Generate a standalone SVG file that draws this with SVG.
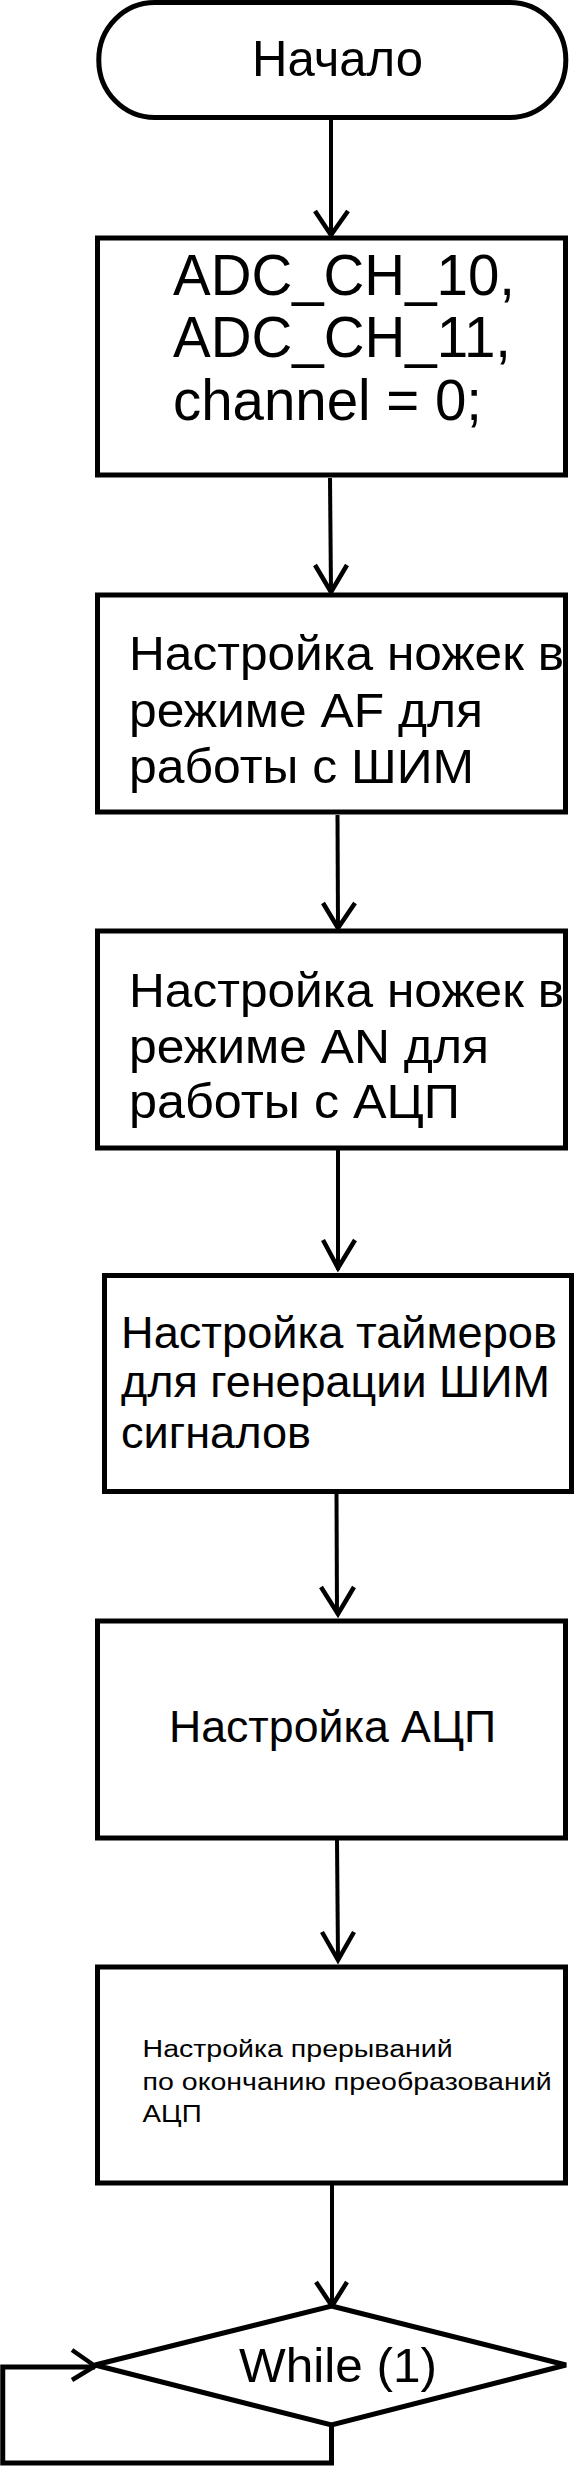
<svg xmlns="http://www.w3.org/2000/svg" width="576" height="2467" viewBox="0 0 576 2467">
<style>
.shape{fill:#fff;stroke:#000;stroke-width:5}
.conn{fill:none;stroke:#000;stroke-width:4}
.loop{fill:none;stroke:#000;stroke-width:5}
.head{fill:none;stroke:#000;stroke-width:4.5}
text{font-family:"Liberation Sans",Arial,sans-serif;fill:#000}
</style>
<rect width="576" height="2467" fill="#fff"/>
<g id="connectors">
<line class="conn" x1="331" y1="120" x2="331" y2="236"/>
<polyline class="head" points="315,211 331,235 348,211"/>
<line class="conn" x1="330" y1="478" x2="331" y2="592"/>
<polyline class="head" points="315,565 331,592 347,565"/>
<line class="conn" x1="337.5" y1="815" x2="338" y2="928"/>
<polyline class="head" points="323,903 338,928 355,903"/>
<line class="conn" x1="338" y1="1150" x2="338" y2="1270"/>
<polyline class="head" points="323,1240 338,1268 355,1240"/>
<line class="conn" x1="336.5" y1="1494" x2="337" y2="1614"/>
<polyline class="head" points="321,1587 338,1614 354,1587"/>
<line class="conn" x1="337" y1="1840" x2="338" y2="1960"/>
<polyline class="head" points="322,1932 338,1960 354,1932"/>
<line class="conn" x1="332" y1="2185" x2="332" y2="2306"/>
<polyline class="head" points="316,2282 332,2306 347,2282"/>
<polyline class="loop" points="331.5,2425 331.5,2463 2.75,2463 2.75,2367 95,2367"/>
<polyline class="head" points="72,2350 95,2366 72,2380"/>
</g>
<g id="start">
<rect class="shape" x="98.8" y="2.5" width="467" height="115" rx="56" ry="57"/>
<text x="252" y="76" font-size="50" textLength="171" lengthAdjust="spacingAndGlyphs">Начало</text>
</g>
<g id="init">
<rect class="shape" x="97.5" y="238" width="468" height="237"/>
<text x="173" y="295" font-size="57" textLength="342" lengthAdjust="spacingAndGlyphs">ADC_CH_10,</text>
<text x="173" y="357" font-size="57" textLength="338" lengthAdjust="spacingAndGlyphs">ADC_CH_11,</text>
<text x="173" y="420" font-size="57" textLength="309" lengthAdjust="spacingAndGlyphs">channel = 0;</text>
</g>
<g id="pins-af">
<rect class="shape" x="97.5" y="595" width="468" height="217"/>
<text x="129" y="670" font-size="49" textLength="435" lengthAdjust="spacingAndGlyphs">Настройка ножек в</text>
<text x="129" y="727" font-size="49" textLength="354" lengthAdjust="spacingAndGlyphs">режиме AF для</text>
<text x="129" y="783" font-size="49" textLength="345" lengthAdjust="spacingAndGlyphs">работы с ШИМ</text>
</g>
<g id="pins-an">
<rect class="shape" x="97.5" y="931" width="468" height="217"/>
<text x="129" y="1007" font-size="49" textLength="435" lengthAdjust="spacingAndGlyphs">Настройка ножек в</text>
<text x="129" y="1063" font-size="49" textLength="360" lengthAdjust="spacingAndGlyphs">режиме AN для</text>
<text x="129" y="1118" font-size="49" textLength="331" lengthAdjust="spacingAndGlyphs">работы с АЦП</text>
</g>
<g id="timers">
<rect class="shape" x="104.5" y="1275.5" width="467" height="216"/>
<text x="121" y="1348" font-size="45" textLength="436" lengthAdjust="spacingAndGlyphs">Настройка таймеров</text>
<text x="121" y="1397" font-size="45" textLength="429" lengthAdjust="spacingAndGlyphs">для генерации ШИМ</text>
<text x="121" y="1448" font-size="45" textLength="190" lengthAdjust="spacingAndGlyphs">сигналов</text>
</g>
<g id="adc">
<rect class="shape" x="97.5" y="1621" width="468" height="217"/>
<text x="169" y="1742" font-size="45" textLength="327" lengthAdjust="spacingAndGlyphs">Настройка АЦП</text>
</g>
<g id="irq">
<rect class="shape" x="97.5" y="1967" width="468" height="216"/>
<text x="142.6" y="2057" font-size="23.5" textLength="310" lengthAdjust="spacingAndGlyphs">Настройка прерываний</text>
<text x="142.6" y="2090" font-size="23.5" textLength="409" lengthAdjust="spacingAndGlyphs">по окончанию преобразований</text>
<text x="142.6" y="2122" font-size="23.5" textLength="59" lengthAdjust="spacingAndGlyphs">АЦП</text>
</g>
<g id="loop">
<polygon class="shape" points="331.5,2306 566,2365 331.5,2425 95,2365"/>
<text x="239" y="2382" font-size="49" textLength="198" lengthAdjust="spacingAndGlyphs">While (1)</text>
</g>
</svg>
